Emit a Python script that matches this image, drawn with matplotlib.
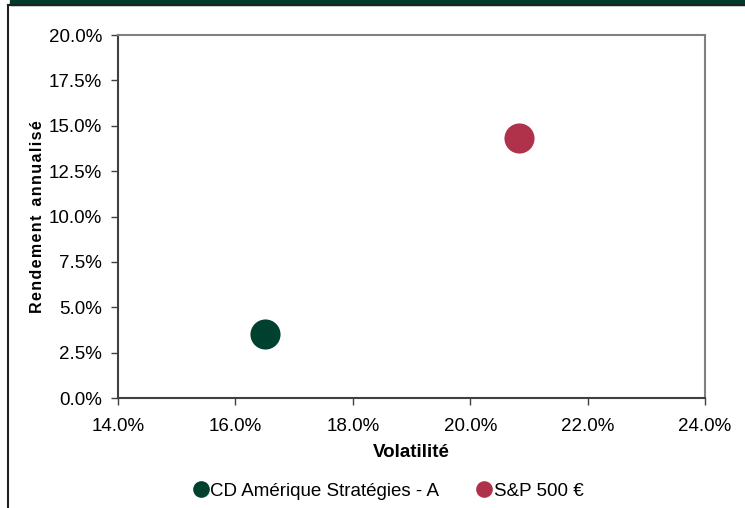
import matplotlib.pyplot as plt
from matplotlib.ticker import FuncFormatter
from matplotlib.lines import Line2D
from matplotlib.patches import Rectangle

plt.rcParams['font.family'] = ['Liberation Sans', 'DejaVu Sans']

# data
names = ['CD Amérique Stratégies - A', 'S&P 500 €']
volatility = [16.5, 20.83]
returns = [3.53, 14.3]
colors = ['#00402F', '#B0324A']

fig = plt.figure(figsize=(7.45, 5.08), dpi=100)
ax = fig.add_axes([0.1584, 0.2165, 0.7879, 0.7146])

for x, y, c in zip(volatility, returns, colors):
    ax.scatter(x, y, s=470, color=c, zorder=3, linewidths=0)

ax.set_xlim(14, 24)
ax.set_ylim(0, 20)
ax.set_xticks([14, 16, 18, 20, 22, 24])
ax.set_yticks([0, 2.5, 5, 7.5, 10, 12.5, 15, 17.5, 20])
pct = FuncFormatter(lambda v, p: f'{v:.1f}%')
ax.xaxis.set_major_formatter(pct)
ax.yaxis.set_major_formatter(pct)
ax.tick_params(labelsize=13.5, length=5, width=1, color='#404040')
ax.tick_params(axis='y', pad=6.5)
ax.tick_params(axis='x', pad=9.5)
for side in ['left', 'bottom']:
    ax.spines[side].set_color('#404040')
    ax.spines[side].set_linewidth(1.5)
for side in ['top', 'right']:
    ax.spines[side].set_color('#808080')
    ax.spines[side].set_linewidth(1.5)

ax.set_xlabel('Volatilité', fontsize=13.5, fontweight='bold', labelpad=6.5)
ylab = '\u200a'.join('Rendement annualisé').replace('\u200a \u200a', '  ')
ax.set_ylabel(ylab, fontsize=11.5, fontweight='bold', labelpad=2.5)

handles = [Line2D([], [], marker='o', linestyle='', markersize=12,
                  markerfacecolor=c, markeredgewidth=0) for c in colors]
fig.legend(handles, names, loc='center', bbox_to_anchor=(0.52, 0.033), ncol=2,
           frameon=False, fontsize=13.5, handletextpad=0.0, columnspacing=1.9,
           handlelength=1.0)

# header band and frame
fig.patches.append(Rectangle((0.0134, 0.991), 1, 0.009, transform=fig.transFigure,
                             color='#003B2B', zorder=0))
fig.lines.append(Line2D([0.011, 1], [0.9905, 0.9905], transform=fig.transFigure,
                        color='#202020', linewidth=1.5))
fig.lines.append(Line2D([0.011, 0.011], [0, 0.9905], transform=fig.transFigure,
                        color='#202020', linewidth=1.5))

fig.savefig('out.png', dpi=100)
